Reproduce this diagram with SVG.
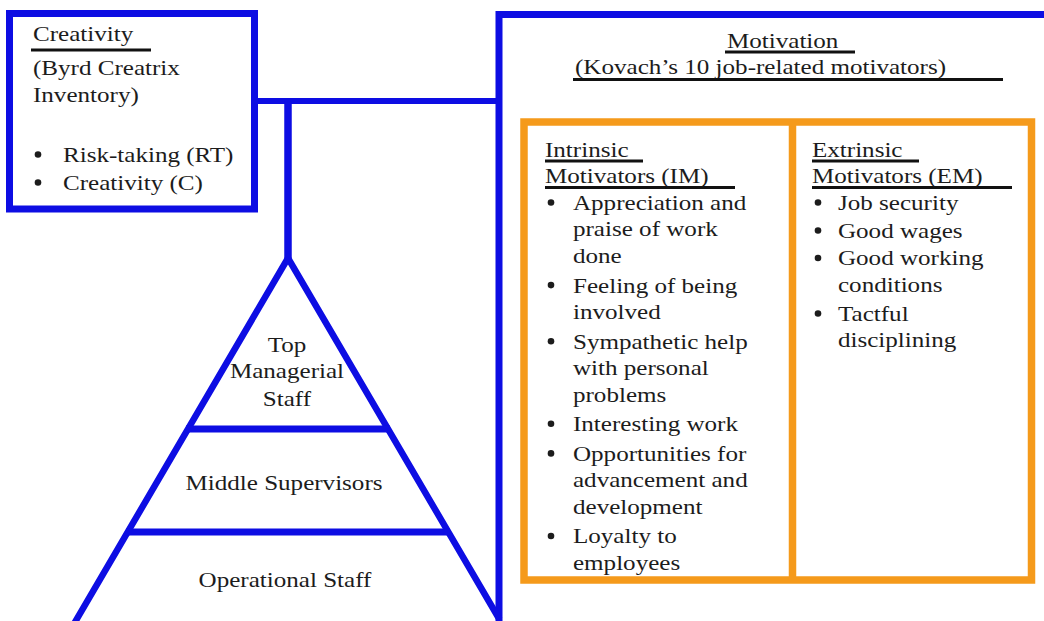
<svg xmlns="http://www.w3.org/2000/svg" width="1044" height="621" viewBox="0 0 1044 621">
<defs>
<circle id="dot" r="3.3" fill="#1c1c1c"/>
</defs>
<style>
.t{font-family:"Liberation Serif","Times New Roman",serif;font-size:22px;fill:#1c1c1c;transform-box:fill-box;transform-origin:0 0;transform:scaleX(1.14);}
.c{text-anchor:middle;transform-origin:50% 0;}
.blue{fill:none;stroke:#0d0de3;stroke-width:7;}
.org{fill:none;stroke:#f59a1b;stroke-width:7.5;}
.ul{stroke:#111;stroke-width:3.2;}
</style>
<rect width="1044" height="621" fill="#ffffff"/>
<g id="connectors">
<line class="blue" x1="256" y1="101" x2="499" y2="101" style="stroke-width:6"/>
<line class="blue" x1="288" y1="101" x2="288" y2="262" style="stroke-width:7.5"/>
</g>
<g id="creativity">
<rect class="blue" x="9.5" y="13.5" width="245" height="195.5"/>
<text class="t" x="33" y="41">Creativity</text>
<line class="ul" x1="31" y1="50" x2="151" y2="50"/>
<text class="t" x="33" y="75">(Byrd Creatrix</text>
<text class="t" x="33" y="102">Inventory)</text>
<use href="#dot" x="38" y="154.5"/>
<text class="t" x="63" y="162">Risk-taking (RT)</text>
<use href="#dot" x="38" y="182.5"/>
<text class="t" x="63" y="190">Creativity (C)</text>
</g>
<g id="motivation">
<path class="blue" d="M499,625 V14.5 H1050"/>
<text class="t" x="727" y="48.5">Motivation</text>
<line class="ul" x1="725" y1="52" x2="855" y2="52"/>
<text class="t" x="575" y="74">(Kovach’s 10 job-related motivators)</text>
<line class="ul" x1="573" y1="79.5" x2="1003" y2="79.5"/>
<rect class="org" x="524" y="122" width="507.5" height="458"/>
<line class="org" x1="792.5" y1="122" x2="792.5" y2="580"/>
</g>
<g id="intrinsic">
<text class="t" x="545" y="157">Intrinsic</text>
<line class="ul" x1="545" y1="161" x2="643" y2="161"/>
<text class="t" x="545" y="183">Motivators (IM)</text>
<line class="ul" x1="545" y1="187.5" x2="735" y2="187.5"/>
<use href="#dot" x="551" y="202.5"/>
<text class="t" x="573" y="210">Appreciation and</text>
<text class="t" x="573" y="236.5">praise of work</text>
<text class="t" x="573" y="263">done</text>
<use href="#dot" x="551" y="285.1"/>
<text class="t" x="573" y="292.6">Feeling of being</text>
<text class="t" x="573" y="319.1">involved</text>
<use href="#dot" x="551" y="341.2"/>
<text class="t" x="573" y="348.7">Sympathetic help</text>
<text class="t" x="573" y="375.2">with personal</text>
<text class="t" x="573" y="401.7">problems</text>
<use href="#dot" x="551" y="423.8"/>
<text class="t" x="573" y="431.3">Interesting work</text>
<use href="#dot" x="551" y="453.4"/>
<text class="t" x="573" y="460.9">Opportunities for</text>
<text class="t" x="573" y="487.4">advancement and</text>
<text class="t" x="573" y="513.9">development</text>
<use href="#dot" x="551" y="536"/>
<text class="t" x="573" y="543.5">Loyalty to</text>
<text class="t" x="573" y="570">employees</text>
</g>
<g id="extrinsic">
<text class="t" x="812" y="157">Extrinsic</text>
<line class="ul" x1="812" y1="161" x2="919" y2="161"/>
<text class="t" x="812" y="183">Motivators (EM)</text>
<line class="ul" x1="812" y1="187.5" x2="1012" y2="187.5"/>
<use href="#dot" x="818" y="202.5"/>
<text class="t" x="838" y="210">Job security</text>
<use href="#dot" x="818" y="230.5"/>
<text class="t" x="838" y="238">Good wages</text>
<use href="#dot" x="818" y="258"/>
<text class="t" x="838" y="265.5">Good working</text>
<text class="t" x="838" y="292">conditions</text>
<use href="#dot" x="818" y="313.5"/>
<text class="t" x="838" y="321">Tactful</text>
<text class="t" x="838" y="347.5">disciplining</text>
</g>
<g id="pyramid">
<path class="blue" d="M70.4,630 L288,258 L499.5,619.5" style="stroke-width:6.5;stroke-linejoin:miter"/>
<line class="blue" x1="186" y1="429" x2="390" y2="429"/>
<line class="blue" x1="126" y1="532" x2="450" y2="532"/>
</g>
<g id="top-managerial">
<text class="t c" x="287" y="352">Top</text>
<text class="t c" x="287" y="378.5">Managerial</text>
<text class="t c" x="287" y="405.5">Staff</text>
</g>
<g id="middle-supervisors">
<text class="t c" x="284" y="490">Middle Supervisors</text>
</g>
<g id="operational-staff">
<text class="t c" x="285" y="587">Operational Staff</text>
</g>
</svg>
